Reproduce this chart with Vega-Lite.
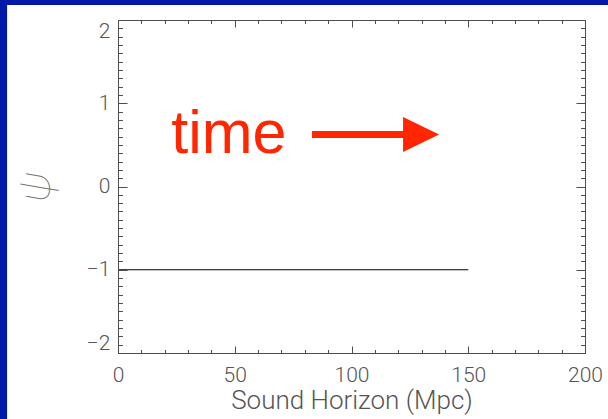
{
  "$schema": "https://vega.github.io/schema/vega-lite/v6.json",
  "width": 467,
  "height": 333,
  "autosize": {"type": "none"},
  "padding": {"left": 118, "top": 20, "right": 23, "bottom": 66},
  "background": "#0019a8",
  "config": {
    "view": {"stroke": null},
    "axis": {
      "grid": false,
      "zindex": 2,
      "domainColor": "#4d4d4d",
      "domainWidth": 1,
      "tickColor": "#4d4d4d",
      "tickWidth": 1,
      "labelColor": "#555555",
      "labelFont": "Roboto",
      "labelFontWeight": 300,
      "labelFontSize": 21,
      "titleColor": "#555555",
      "titleFont": "Roboto",
      "titleFontWeight": 300
    }
  },
  "datasets": {
    "frame": [{"x0": -47.5, "x1": 260, "y0": 2.18, "y1": -4}],
    "curve": [{"r": 0, "psi": -1}, {"r": 150, "psi": -1}],
    "shaft": [{"xa": 83.1, "xb": 122.9, "ya": 0.626}],
    "head": [{"xh": 129.8, "yh": 0.624}],
    "label": [{"xt": 22.8, "yt": 0.402, "txt": "time"}]
  },
  "resolve": {"axis": {"x": "independent", "y": "independent"}},
  "layer": [
    {
      "data": {"name": "frame"},
      "mark": {"type": "rect", "fill": "white", "stroke": null},
      "encoding": {
        "x": {
          "field": "x0", "type": "quantitative",
          "scale": {"domain": [0, 200], "nice": false, "zero": false},
          "axis": {
            "orient": "bottom",
            "zindex": 2,
            "values": [0, 50, 100, 150, 200],
            "tickSize": -7,
            "format": "d",
            "labelFlush": false,
            "labelOverlap": false,
            "labelPadding": 18,
            "title": "Sound Horizon (Mpc)",
            "titleFontSize": 26,
            "titlePadding": 2
          }
        },
        "x2": {"field": "x1"},
        "y": {
          "field": "y0", "type": "quantitative",
          "scale": {"domain": [-2, 2], "nice": false, "zero": false},
          "axis": {
            "orient": "left",
            "zindex": 2,
            "values": [-2, -1, 0, 1, 2],
            "tickSize": -9,
            "format": "d",
            "labelFlush": true,
            "labelOverlap": false,
            "labelPadding": 17,
            "title": "ψ",
            "titleColor": "#777777",
            "titleFont": "Inter",
            "titleFontStyle": "italic",
            "titleFontWeight": 100,
            "titleFontSize": 44,
            "titlePadding": 28
          }
        },
        "y2": {"field": "y1"}
      }
    },
    {
      "data": {"name": "curve"},
      "mark": {"type": "line", "color": "#000000", "strokeWidth": 1},
      "encoding": {
        "x": {
          "field": "r", "type": "quantitative",
          "axis": {"orient": "top", "zindex": 2, "values": [0, 50, 100, 150, 200], "tickSize": -7, "labels": false, "title": null}
        },
        "y": {
          "field": "psi", "type": "quantitative",
          "axis": {"orient": "right", "zindex": 2, "values": [-2, -1, 0, 1, 2], "tickSize": -9, "labels": false, "title": null}
        }
      }
    },
    {
      "data": {"name": "shaft"},
      "mark": {"type": "rule", "color": "#ff2600", "strokeWidth": 7},
      "encoding": {
        "x": {
          "field": "xa", "type": "quantitative",
          "axis": {"orient": "bottom", "zindex": 2, "values": [10,20,30,40,60,70,80,90,110,120,130,140,160,170,180,190], "tickSize": -3.5, "labels": false, "domain": false, "title": null}
        },
        "x2": {"field": "xb"},
        "y": {
          "field": "ya", "type": "quantitative",
          "axis": {"orient": "left", "zindex": 2, "values": [-1.9,-1.8,-1.7,-1.6,-1.5,-1.4,-1.3,-1.2,-1.1,-0.9,-0.8,-0.7,-0.6,-0.5,-0.4,-0.3,-0.2,-0.1,0.1,0.2,0.3,0.4,0.5,0.6,0.7,0.8,0.9,1.1,1.2,1.3,1.4,1.5,1.6,1.7,1.8,1.9], "tickSize": -4.5, "labels": false, "domain": false, "title": null}
        }
      }
    },
    {
      "data": {"name": "head"},
      "mark": {"type": "point", "shape": "M-1,-0.97L1,0L-1,0.97Z", "filled": true, "fill": "#ff2600", "stroke": null, "opacity": 1, "size": 1296},
      "encoding": {
        "x": {
          "field": "xh", "type": "quantitative",
          "axis": {"orient": "top", "zindex": 2, "values": [10,20,30,40,60,70,80,90,110,120,130,140,160,170,180,190], "tickSize": -3.5, "labels": false, "domain": false, "title": null}
        },
        "y": {
          "field": "yh", "type": "quantitative",
          "axis": {"orient": "right", "zindex": 2, "values": [-1.9,-1.8,-1.7,-1.6,-1.5,-1.4,-1.3,-1.2,-1.1,-0.9,-0.8,-0.7,-0.6,-0.5,-0.4,-0.3,-0.2,-0.1,0.1,0.2,0.3,0.4,0.5,0.6,0.7,0.8,0.9,1.1,1.2,1.3,1.4,1.5,1.6,1.7,1.8,1.9], "tickSize": -4.5, "labels": false, "domain": false, "title": null}
        }
      }
    },
    {
      "data": {"name": "label"},
      "mark": {"type": "text", "color": "#ff2600", "font": "Liberation Sans", "fontSize": 61, "align": "left", "baseline": "alphabetic"},
      "encoding": {
        "x": {"field": "xt", "type": "quantitative", "axis": null},
        "y": {"field": "yt", "type": "quantitative", "axis": null},
        "text": {"field": "txt"}
      }
    }
  ]
}
